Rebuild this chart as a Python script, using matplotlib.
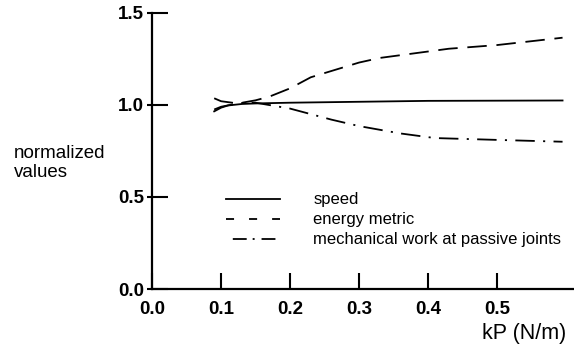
import numpy as np
import matplotlib
matplotlib.use("Agg")
import matplotlib.pyplot as plt
from matplotlib.lines import Line2D

plt.rcParams['font.family'] = ['Liberation Sans', 'DejaVu Sans']
plt.rcParams['lines.scale_dashes'] = False

# values
kp_speed = [0.09, 0.1, 0.11, 0.13, 0.15, 0.2, 0.3, 0.4, 0.5, 0.595]
speed = [0.965, 0.985, 0.997, 1.005, 1.008, 1.012, 1.017, 1.022, 1.023, 1.024]

kp_energy = [0.09, 0.1, 0.12, 0.15, 0.17, 0.2, 0.23, 0.3, 0.33, 0.4, 0.43, 0.5, 0.595]
energy = [0.975, 0.99, 1.005, 1.025, 1.045, 1.09, 1.15, 1.23, 1.255, 1.29, 1.305, 1.325, 1.365]

kp_work = [0.09, 0.1, 0.12, 0.15, 0.2, 0.26, 0.3, 0.36, 0.41, 0.5, 0.595]
work = [1.036, 1.02, 1.01, 1.012, 0.98, 0.92, 0.885, 0.845, 0.82, 0.81, 0.8]

x_ticks = [0.0, 0.1, 0.2, 0.3, 0.4, 0.5]
y_ticks = [0.0, 0.5, 1.0, 1.5]

fig = plt.figure(figsize=(5.74, 3.47), dpi=100)
ax = fig.add_axes([0.265, 0.167, 0.735, 0.796])

lw = 1.3
ax.plot(kp_speed, speed, color='black', lw=lw, linestyle='-')
ax.plot(kp_energy, energy, color='black', lw=lw, linestyle=(0, (14, 7)))
ax.plot(kp_work, work, color='black', lw=lw, linestyle=(0, (14, 6, 1.5, 6)))

ax.set_xlim(0, 0.6116)
ax.set_ylim(0, 1.5)
ax.set_xticks(x_ticks)
ax.set_yticks(y_ticks)
ax.set_xticklabels(['%.1f' % v for v in x_ticks], fontweight='bold', fontsize=13.5)
ax.set_yticklabels(['%.1f' % v for v in y_ticks], fontweight='bold', fontsize=13.5)
ax.tick_params(direction='in', length=11.5, width=1.5)
ax.tick_params(axis='y', pad=6)
ax.tick_params(axis='x', pad=8.5)
# short outward stubs on the y ticks
ax.yaxis.remove_overlapping_locs = False
ax.set_yticks(y_ticks, minor=True)
ax.tick_params(axis='y', which='minor', direction='out', length=3.6, width=1.5)

for s in ['top', 'right']:
    ax.spines[s].set_visible(False)
for s in ['left', 'bottom']:
    ax.spines[s].set_linewidth(1.6)

fig.text(0.024, 0.529, 'normalized\nvalues', fontsize=13.5, ha='left', va='center', linespacing=1.15)
fig.text(0.986, 0.022, 'kP (N/m)', fontsize=15.5, ha='right', va='baseline')

handles = [
    Line2D([], [], color='black', lw=lw, linestyle='-'),
    Line2D([], [], color='black', lw=lw, linestyle=(0, (5.8, 10.8))),
    Line2D([], [], color='black', lw=lw, linestyle=(15.8, (10, 4.3, 1.4, 5))),
]
labels = ['speed', 'energy metric', 'mechanical work at passive joints']
ax.legend(handles, labels, loc='center left', bbox_to_anchor=(0.175, 0.25),
          frameon=False, fontsize=12, handlelength=3.25, handletextpad=2.0,
          labelspacing=0.3, borderpad=0, borderaxespad=0)

fig.savefig('out.png', dpi=100)
